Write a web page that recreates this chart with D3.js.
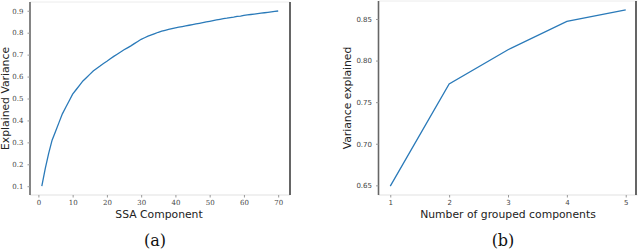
<!DOCTYPE html>
<html><head><meta charset="utf-8">
<script src="https://cdn.jsdelivr.net/npm/d3@7"></script>
<style>
html,body{margin:0;padding:0;background:#fff;}
svg{display:block;}
</style></head>
<body>
<svg id="c" width="640" height="252"></svg>
<script>
// Panel (a): cumulative explained variance vs SSA component
const ssaComponents = [1,2,3,4,5,6,7,8,9,10,11,12,13,14,15,16,17,18,19,20,21,22,23,24,25,26,27,28,29,30,31,32,33,34,35,36,37,38,39,40,41,42,43,44,45,46,47,48,49,50,51,52,53,54,55,56,57,58,59,60,61,62,63,64,65,66,67,68,69,70];
const explainedVariance = [0.10,0.18,0.25,0.31,0.35,0.39,0.43,0.46,0.49,0.52,0.54,0.56,0.58,0.595,0.61,0.625,0.637,0.648,0.66,0.67,0.681,0.692,0.702,0.712,0.722,0.731,0.740,0.750,0.760,0.770,0.777,0.784,0.790,0.796,0.802,0.807,0.811,0.815,0.819,0.822,0.825,0.828,0.831,0.834,0.837,0.840,0.843,0.846,0.849,0.852,0.855,0.858,0.861,0.864,0.866,0.869,0.871,0.874,0.876,0.879,0.881,0.883,0.885,0.887,0.889,0.891,0.893,0.895,0.897,0.899];
const ticksA_x = [0,10,20,30,40,50,60,70];
const ticksA_y = [0.1,0.2,0.3,0.4,0.5,0.6,0.7,0.8,0.9];

// Panel (b): variance explained vs number of grouped components
const groupedComponents = [1,2,3,4,5];
const varianceExplained = [0.649,0.772,0.813,0.847,0.861];
const ticksB_x = [1,2,3,4,5];
const ticksB_y = [0.65,0.70,0.75,0.80,0.85];

const svg = d3.select("#c");
const lineColor = "#2a7ab9";

function panel(o){
  const g = svg.append("g");
  const x = d3.scaleLinear().domain(o.xd).range([o.left,o.right]);
  const y = d3.scaleLinear().domain(o.yd).range([o.bottom,o.top]);
  // spines
  g.append("line").attr("x1",o.left).attr("x2",o.right).attr("y1",o.top).attr("y2",o.top).attr("stroke","#ececec").attr("stroke-width",1);
  g.append("line").attr("x1",o.left).attr("x2",o.right).attr("y1",o.bottom).attr("y2",o.bottom).attr("stroke","#e2e2e2").attr("stroke-width",1.2);
  g.append("line").attr("x1",o.left).attr("x2",o.left).attr("y1",o.top).attr("y2",o.bottom).attr("stroke","#666").attr("stroke-width",1.6);
  g.append("line").attr("x1",o.rightSpine).attr("x2",o.rightSpine).attr("y1",o.top).attr("y2",o.bottom).attr("stroke","#555").attr("stroke-width",1.8);
  // axes
  const ax = g.append("g").attr("transform",`translate(0,${o.bottom})`)
    .call(d3.axisBottom(x).tickValues(o.xt).tickSize(2.5).tickPadding(3).tickFormat(o.xf));
  const ay = g.append("g").attr("transform",`translate(${o.left},0)`)
    .call(d3.axisLeft(y).tickValues(o.yt).tickSize(2.5).tickPadding(4).tickFormat(o.yf));
  [ax,ay].forEach(a=>{
    a.select(".domain").remove();
    a.selectAll(".tick line").attr("stroke","#999");
    a.selectAll("text").attr("font-family",o.tickFont).attr("font-size",o.tickSize).attr("fill","#444");
  });
  // line
  const data = o.xs.map((d,i)=>[d,o.ys[i]]);
  g.append("path").datum(data)
    .attr("fill","none").attr("stroke",lineColor).attr("stroke-width",1.3)
    .attr("d",d3.line().x(d=>x(d[0])).y(d=>y(d[1])));
  // titles
  g.append("text").attr("x",o.xtX).attr("y",218).attr("text-anchor","middle")
    .attr("font-family","DejaVu Sans, sans-serif").attr("font-size",10.8).attr("fill","#222").text(o.xtitle);
  g.append("text").attr("transform",`translate(${o.ytX},${(o.top+o.bottom)/2}) rotate(-90)`)
    .attr("text-anchor","middle").attr("font-family","DejaVu Sans, sans-serif").attr("font-size",10.8).attr("fill","#222").text(o.ytitle);
  g.append("text").attr("x",o.capX).attr("y",246).attr("text-anchor","middle")
    .attr("font-family","DejaVu Serif, Liberation Serif, serif").attr("font-size",16).attr("fill","#111").text(o.caption);
}

panel({
  xd:[-2.45,73.45], yd:[0.06,0.94], left:30, right:290, rightSpine:290, top:2, bottom:195,
  xs:ssaComponents, ys:explainedVariance, xt:ticksA_x, yt:ticksA_y,
  xf:d3.format("d"), yf:d3.format(".1f"), tickFont:"DejaVu Serif, serif", tickSize:7,
  xtitle:"SSA Component", ytitle:"Explained Variance", xtX:159, ytX:9, capX:155, caption:"(a)"
});
panel({
  xd:[0.8,5.2], yd:[0.6384,0.8716], left:378.5, right:637.5, rightSpine:636, top:1, bottom:195,
  xs:groupedComponents, ys:varianceExplained, xt:ticksB_x, yt:ticksB_y,
  xf:d3.format("d"), yf:d3.format(".2f"), tickFont:"DejaVu Sans, sans-serif", tickSize:7,
  xtitle:"Number of grouped components", ytitle:"Variance explained", xtX:508, ytX:351, capX:503, caption:"(b)"
});
</script>
</body></html>
